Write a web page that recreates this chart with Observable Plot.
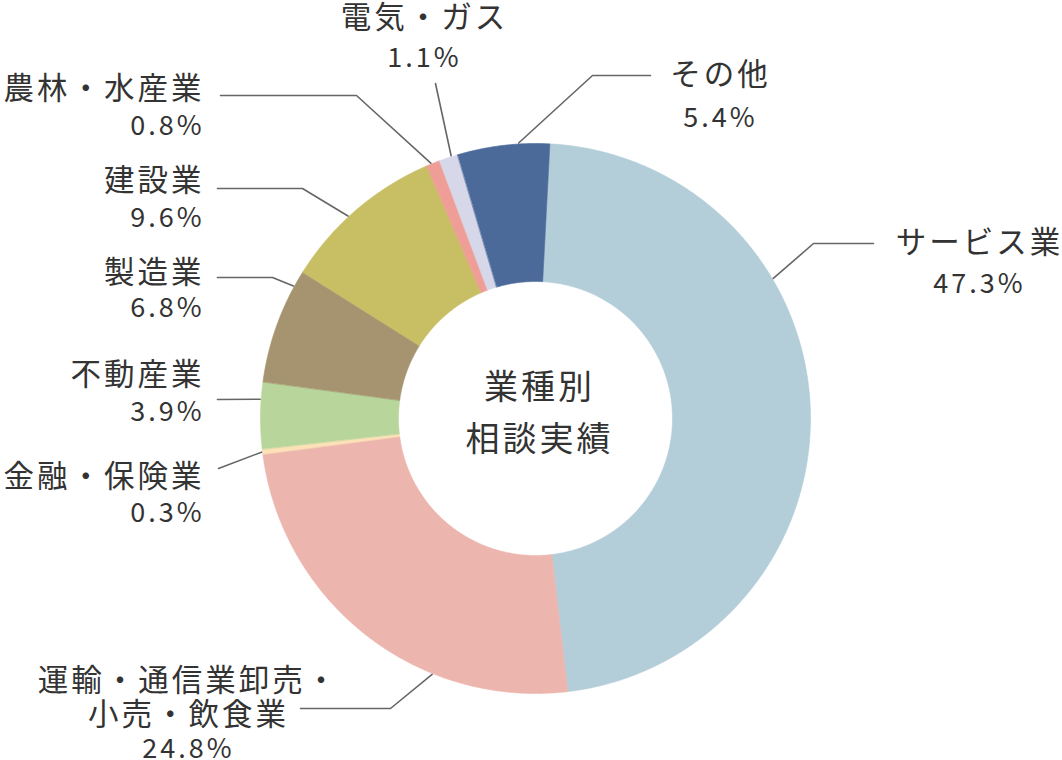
<!DOCTYPE html>
<html>
<head>
<meta charset="utf-8">
<script src="https://cdn.jsdelivr.net/npm/d3@7"></script>
<script src="https://cdn.jsdelivr.net/npm/@observablehq/plot@0.6"></script>
<style>
  html, body { margin: 0; padding: 0; background: #fff; }
  #chart svg { display: block; }
</style>
</head>
<body>
<div id="chart"></div>
<script>
// ---- data ----
const categories = ["サービス業", "運輸・通信業卸売・小売・飲食業", "金融・保険業", "不動産業", "製造業", "建設業", "農林・水産業", "電気・ガス", "その他"];
const values = [47.3, 24.8, 0.3, 3.9, 6.8, 9.6, 0.8, 1.1, 5.4];
const labelLines = [["サービス業"], ["運輸・通信業卸売・", "小売・飲食業"], ["金融・保険業"], ["不動産業"], ["製造業"], ["建設業"], ["農林・水産業"], ["電気・ガス"], ["その他"]];
const colors = ["#b3cdd9", "#ecb6ae", "#fce0b6", "#b8d69b", "#a5946f", "#c8bf64", "#ee9e96", "#d6d8ea", "#4b6a9a"];
const centerTitle = ["業種別", "相談実績"];

// ---- layout (pixels) ----
const W = 1062, H = 760;
const cx = 535, cy = 418, rOuter = 275, rInner = 137;
const startDeg = 3;
// per category: leader anchor angle (deg, clockwise from 12 o'clock), elbow, end, text position, anchor, line gap
const layout = [
  {deg: 59.5, elbow: [813, 243], end: [873, 243], tx: 979, ty: 243, anchor: "middle", gap: 41},
  {deg: 202, elbow: [390, 708], end: [300, 708], tx: 188, ty: 681, anchor: "middle", gap: 34},
  {deg: 263, elbow: null, end: [218, 468], tx: 204, ty: 477, anchor: "end", gap: 36},
  {deg: 274, elbow: null, end: [217, 399], tx: 204, ty: 375, anchor: "end", gap: 37},
  {deg: 298.7, elbow: [272, 277], end: [217, 277], tx: 204, ty: 273, anchor: "end", gap: 35},
  {deg: 317.2, elbow: [302, 188], end: [217, 188], tx: 204, ty: 181, anchor: "end", gap: 37},
  {deg: 337.7, elbow: [356, 95], end: [220, 95], tx: 204, ty: 89, anchor: "end", gap: 37},
  {deg: 342.2, elbow: null, end: [435, 83], tx: 424, ty: 18, anchor: "middle", gap: 40},
  {deg: 356.5, elbow: [592, 75], end: [650, 75], tx: 720, ty: 75, anchor: "middle", gap: 43}
];

const rad = d => d * Math.PI / 180;
const px = (r, a) => cx + r * Math.sin(a);
const py = (r, a) => cy - r * Math.cos(a);

const rows = categories.map((c, i) => ({cat: c, value: values[i]}));
const arcs = d3.pie().sort(null).value(d => d.value)
  .startAngle(rad(startDeg)).endAngle(rad(startDeg) + 2 * Math.PI)(rows);

// slice polygons
const slicePts = [];
for (const a of arcs) {
  const n = Math.max(2, Math.ceil((a.endAngle - a.startAngle) / rad(0.5)));
  for (let k = 0; k <= n; k++) {
    const t = a.startAngle + (a.endAngle - a.startAngle) * k / n;
    slicePts.push({cat: a.data.cat, x: px(rOuter, t), y: py(rOuter, t)});
  }
  for (let k = n; k >= 0; k--) {
    const t = a.startAngle + (a.endAngle - a.startAngle) * k / n;
    slicePts.push({cat: a.data.cat, x: px(rInner, t), y: py(rInner, t)});
  }
}

// leader lines
const leaderPts = [];
categories.forEach((c, i) => {
  const L = layout[i];
  const a = rad(L.deg);
  leaderPts.push({cat: c, x: px(rOuter + 1, a), y: py(rOuter + 1, a)});
  if (L.elbow) leaderPts.push({cat: c, x: L.elbow[0], y: L.elbow[1]});
  leaderPts.push({cat: c, x: L.end[0], y: L.end[1]});
});

// labels
const labelRows = [];
categories.forEach((c, i) => {
  const L = layout[i];
  const lines = labelLines[i];
  lines.forEach((t, j) => labelRows.push({text: t, x: L.tx, y: L.ty + j * L.gap, size: 30.5, anchor: L.anchor}));
  labelRows.push({text: values[i].toFixed(1) + "%", x: L.tx, y: L.ty + lines.length * L.gap, size: 27, anchor: L.anchor});
});
const centerRows = centerTitle.map((t, j) => ({text: t, x: cx + 4, y: 388 + j * 52}));

const chart = Plot.plot({
  width: W,
  height: H,
  margin: 0,
  x: {domain: [0, W], range: [0, W], axis: null},
  y: {domain: [0, H], range: [0, H], axis: null},
  color: {domain: categories, range: colors},
  style: {fontFamily: "'Noto Sans CJK JP', 'Noto Sans', sans-serif", background: "#fff", letterSpacing: "3px"},
  marks: [
    Plot.line(slicePts, {x: "x", y: "y", z: "cat", fill: "cat", stroke: "cat", strokeWidth: 0.6, curve: "linear-closed"}),
    Plot.line(leaderPts, {x: "x", y: "y", z: "cat", stroke: "#666", strokeWidth: 1.6}),
    Plot.text(labelRows.filter(d => d.anchor === "end"), {x: "x", y: "y", text: "text", fontSize: "size", textAnchor: "end", fill: "#333", lineAnchor: "middle"}),
    Plot.text(labelRows.filter(d => d.anchor === "middle"), {x: "x", y: "y", text: "text", fontSize: "size", textAnchor: "middle", fill: "#333", lineAnchor: "middle"}),
    Plot.text(centerRows, {x: "x", y: "y", text: "text", fontSize: 34, textAnchor: "middle", fill: "#333", lineAnchor: "middle"})
  ]
});
document.getElementById("chart").appendChild(chart);
</script>
</body>
</html>
